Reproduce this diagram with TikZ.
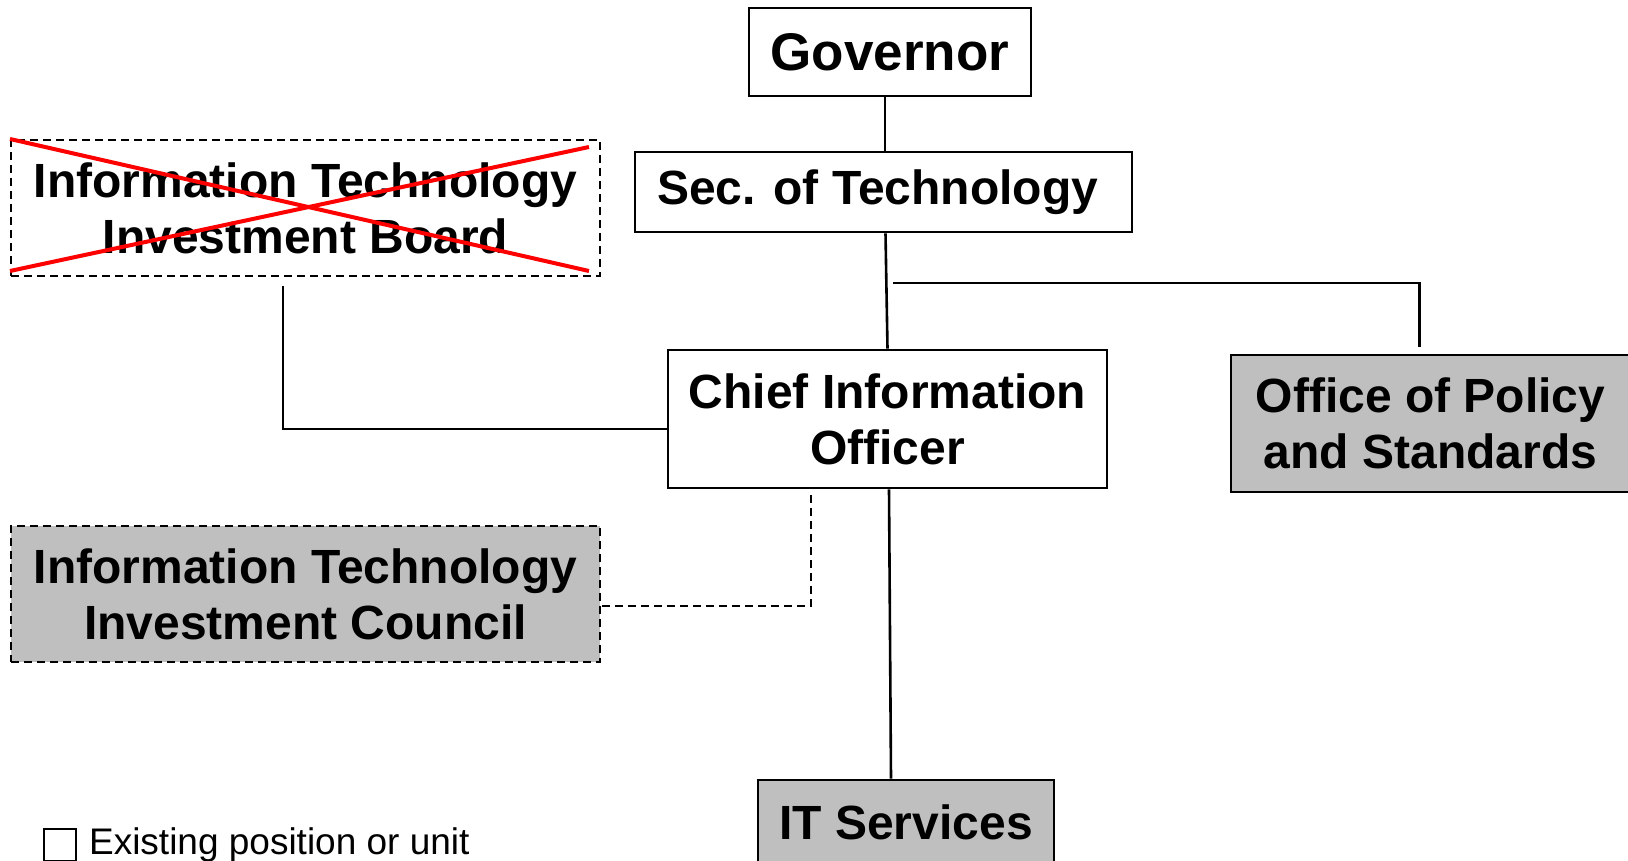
\documentclass[tikz,border=0pt]{standalone}
\usepackage{fontspec}
\setmainfont{Liberation Sans}
\begin{document}
\begin{tikzpicture}[x=0.5pt, y=-0.5pt,
    unit/.style={draw=black, line width=1.4pt, align=center, inner sep=0pt,
                 font=\bfseries\fontsize{24}{28}\selectfont},
    newunit/.style={unit, fill=black!25},
    gone/.style={unit, dashed, dash pattern=on 4pt off 2.5pt, line width=1pt},
    link/.style={black, line width=1.3pt}]
      % Moldura
      \useasboundingbox (0,0) rectangle (1628,861);
      % Caixas
      \node[unit, font=\bfseries\fontsize{26.5}{28}\selectfont,
            minimum width=141pt, minimum height=44pt]          (gov) at (890,52)     {Governor};
      \node[unit, minimum width=248.5pt, minimum height=40pt]  (sec) at (883.5,192)  {Sec. of Technology\hspace*{6pt}};
      \node[gone, minimum width=294.5pt, minimum height=68pt]  (itib) at (305.5,208) {Information Technology\\Investment Board};
      \node[unit, minimum width=219.5pt, minimum height=69pt]  (cio) at (887.5,419)  {Chief Information\\Officer};
      \node[newunit, minimum width=199.5pt, minimum height=68.5pt] (ops) at (1430.5,423.5) {Office of Policy\\and Standards};
      \node[newunit, dashed, dash pattern=on 4pt off 2.5pt, line width=1pt,
            minimum width=294.5pt, minimum height=68pt]        (itic) at (305.5,594) {Information Technology\\Investment Council};
      \node[newunit, minimum width=148pt, minimum height=42pt] (its) at (906,822)    {IT Services};

      % Board extinto
      \draw[red, line width=2pt] (itib.north west) -- ([shift={(-6pt,3pt)}]itib.south east);
      \draw[red, line width=2pt] ([yshift=3pt]itib.south west) -- ([shift={(-6pt,-4pt)}]itib.north east);

      % Ligacoes
      \draw[link] ([xshift=-2.5pt]gov.south) -- ([xshift=0.75pt]sec.north);
      \draw[link] ([xshift=1pt]sec.south) -- (cio.north);
      \coordinate (br) at (893,283);
      \draw[link] (br) -| ([shift={(-5.5pt,3.5pt)}]ops.north);
      \draw[link] ([shift={(-11.25pt,-4.5pt)}]itib.south) |- ([yshift=-5pt]cio.west);
      \draw[link, dashed, dash pattern=on 4pt off 2.5pt, line width=1pt]
            ([shift={(-38.25pt,-3pt)}]cio.south) |- ([yshift=-6pt]itic.east);
      \draw[link] ([xshift=0.75pt]cio.south) -- ([xshift=-7.5pt]its.north);

      % Legenda
      \node[draw=black, line width=0.7pt, minimum size=16pt, inner sep=0pt] (leg) at (60,845) {};
      \node[right, font=\fontsize{18.5}{20}\selectfont, inner sep=0pt] (legtxt) at ([xshift=6pt]leg.east) {Existing position or unit};
\end{tikzpicture}
\end{document}
